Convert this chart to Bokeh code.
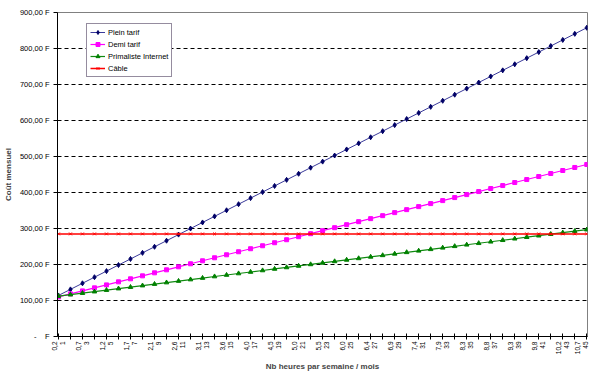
import math
from bokeh.plotting import figure
from bokeh.models import Range1d, FixedTicker, Legend, LegendItem
from bokeh.embed import file_html
from bokeh.resources import INLINE

# Categories: hours per month (1..45) and matching hours per week labels
months = list(range(1, 46))
week_labels = ["0,2", "0,7", "1,2", "1,7", "2,1", "2,6", "3,1", "3,6", "4,0", "4,5",
               "5,0", "5,5", "6,0", "6,4", "6,9", "7,4", "7,9", "8,3", "8,8", "9,3",
               "9,8", "10,2", "10,7"]
labelled_months = [1, 3, 5, 7, 9, 11, 13, 15, 17, 19, 21, 23, 25, 27, 29, 31, 33,
                   35, 37, 39, 41, 43, 45]

plein_tarif = [114.0, 130.9, 147.8, 164.7, 181.6, 198.5, 215.4, 232.3, 249.2, 266.1,
               283.0, 299.9, 316.8, 333.7, 350.6, 367.5, 384.4, 401.3, 418.2, 435.1,
               452.0, 468.9, 485.8, 502.7, 519.6, 536.5, 553.4, 570.3, 587.2, 604.1,
               621.0, 637.9, 654.8, 671.7, 688.6, 705.5, 722.4, 739.3, 756.2, 773.1,
               790.0, 806.9, 823.8, 840.7, 857.6]
demi_tarif = [110.0, 118.4, 126.7, 135.1, 143.4, 151.8, 160.2, 168.5, 176.9, 185.2,
              193.6, 202.0, 210.3, 218.7, 227.0, 235.4, 243.8, 252.1, 260.5, 268.8,
              277.2, 285.6, 293.9, 302.3, 310.6, 319.0, 327.4, 335.7, 344.1, 352.4,
              360.8, 369.2, 377.5, 385.9, 394.2, 402.6, 411.0, 419.3, 427.7, 436.0,
              444.4, 452.8, 461.1, 469.5, 477.8]
primaliste = [112.0, 116.2, 120.4, 124.6, 128.8, 133.0, 137.2, 141.4, 145.6, 149.8,
              154.0, 158.2, 162.4, 166.6, 170.8, 175.0, 179.2, 183.4, 187.6, 191.8,
              196.0, 200.2, 204.4, 208.6, 212.8, 217.0, 221.2, 225.4, 229.6, 233.8,
              238.0, 242.2, 246.4, 250.6, 254.8, 259.0, 263.2, 267.4, 271.6, 275.8,
              280.0, 284.2, 288.4, 292.6, 296.8]
cable = [285.0] * 45

y_ticks = [0, 100, 200, 300, 400, 500, 600, 700, 800, 900]
y_labels = ["-\u00a0\u00a0\u00a0\u00a0F", "100,00 F", "200,00 F", "300,00 F", "400,00 F",
            "500,00 F", "600,00 F", "700,00 F", "800,00 F", "900,00 F"]
grid_ticks = [100, 200, 300, 400, 500, 600, 700, 800]

FONT = "Liberation Sans"

p = figure(frame_width=530, frame_height=324,
           x_range=Range1d(0.92, 45.06), y_range=Range1d(0, 900),
           output_backend="svg", toolbar_location=None,
           min_border_left=52, min_border_right=2, min_border_top=12,
           min_border_bottom=0)
p.background_fill_color = "white"
p.border_fill_color = "white"
p.outline_line_color = "#808080"
p.outline_line_width = 1

# x axis
xa = p.xaxis[0]
xa.ticker = FixedTicker(ticks=months)
overrides = {}
for m in months:
    overrides[m] = ""
for m, w in zip(labelled_months, week_labels):
    overrides[m] = w + "\n" + str(m)
xa.major_label_overrides = overrides
xa.major_label_orientation = math.pi / 2
xa.major_label_text_font = FONT
xa.major_label_text_font_size = "6.5px"
xa.major_label_text_color = "black"
xa.major_label_standoff = 2
xa.major_tick_in = 3
xa.major_tick_out = 3
xa.minor_tick_line_color = None
xa.axis_line_color = "black"
xa.major_tick_line_color = "black"
xa.axis_label = "Nb heures par semaine / mois"
xa.axis_label_text_font = FONT
xa.axis_label_text_font_size = "8px"
xa.axis_label_text_font_style = "bold"
xa.axis_label_standoff = 5

# y axis
ya = p.yaxis[0]
ya.ticker = FixedTicker(ticks=y_ticks)
ya.major_label_overrides = dict(zip(y_ticks, y_labels))
ya.major_label_text_font = FONT
ya.major_label_text_font_size = "7.5px"
ya.major_label_text_color = "black"
ya.major_label_standoff = 4
ya.major_tick_in = 0
ya.major_tick_out = 4
ya.minor_tick_line_color = None
ya.axis_line_color = "black"
ya.major_tick_line_color = "black"
ya.axis_label = "Coût mensuel"
ya.axis_label_text_font = FONT
ya.axis_label_text_font_size = "8px"
ya.axis_label_text_font_style = "bold"
ya.axis_label_standoff = 4

p.xgrid.visible = False
p.ygrid.ticker = FixedTicker(ticks=grid_ticks)
p.ygrid.grid_line_color = "black"
p.ygrid.grid_line_dash = "4 3"
p.ygrid.grid_line_width = 1

# series
r1l = p.line(months, plein_tarif, line_color="#3a3a9a", line_width=1)
r1m = p.scatter(months, plein_tarif, marker="diamond", size=5,
                fill_color="#000066", line_color="#000066")
r2l = p.line(months, demi_tarif, line_color="#FF00FF", line_width=1.2)
r2m = p.scatter(months, demi_tarif, marker="square", size=4,
                fill_color="#FF00FF", line_color="#FF00FF")
r3l = p.line(months, primaliste, line_color="#108a10", line_width=1.2)
r3m = p.scatter(months, primaliste, marker="triangle", size=4.5,
                fill_color="#008000", line_color="#008000")
r4l = p.line(months, cable, line_color="#FF0000", line_width=1.5)
r4m = p.scatter(months, cable, marker="x", size=4,
                line_color="#FF0000", line_width=1)

legend = Legend(items=[
    LegendItem(label="Plein tarif", renderers=[r1l, r1m]),
    LegendItem(label="Demi tarif", renderers=[r2l, r2m]),
    LegendItem(label="Primaliste Internet", renderers=[r3l, r3m]),
    LegendItem(label="Câble", renderers=[r4l, r4m]),
], location=(29, 259))
legend.label_text_font = FONT
legend.label_text_font_size = "7.5px"
legend.label_text_color = "black"
legend.glyph_height = 10
legend.glyph_width = 15
legend.label_height = 10
legend.label_standoff = 3
legend.spacing = 2
legend.padding = 3
legend.margin = 0
legend.border_line_color = "#2b1a40"
legend.border_line_width = 1
legend.background_fill_color = "white"
legend.background_fill_alpha = 1
p.add_layout(legend)

open("out.html", "w").write(file_html(p, INLINE))
